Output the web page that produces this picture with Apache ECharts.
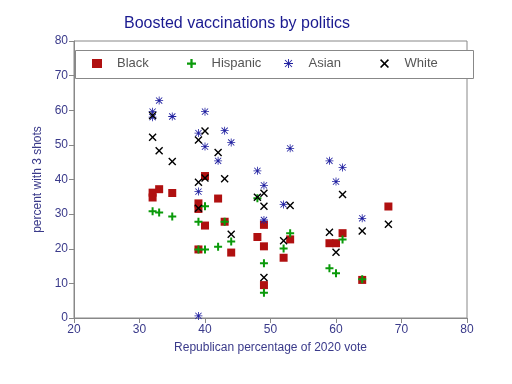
<!DOCTYPE html>
<html><head><meta charset="utf-8">
<script src="https://cdn.jsdelivr.net/npm/echarts@6/dist/echarts.min.js"></script>
<style>html,body{margin:0;padding:0;background:#fff}#c{width:512px;height:384px}</style>
</head><body><div id="c"></div>
<script>
const seriesNames = ['Black','Hispanic','Asian','White'];
const blackData = [[32,36.2],[32,34.8],[33,37.2],[35,36.1],[39,33.1],[39,31.5],[40,41],[40,26.7],[39,19.8],[42,34.5],[43,27.8],[44,18.9],[48,23.4],[49,26.9],[49,20.7],[49,9.5],[52,17.4],[53,22.7],[59,21.6],[60,21.6],[61,24.5],[64,11],[68,32.2]];
const hispanicData = [[32,30.8],[33,30.5],[35,29.3],[39,27.8],[40,32.3],[39,19.8],[40,19.8],[42,20.6],[43,27.8],[44,22.1],[48,34.6],[49,15.8],[49,7.3],[52,20.1],[53,24.5],[59,14.4],[60,12.9],[61,22.7],[64,11.2]];
const asianData = [[32,59.6],[32,58],[33,62.8],[35,58.2],[39,53.4],[40,59.6],[40,49.5],[39,36.5],[39,0.6],[42,45.4],[43,54.1],[44,50.7],[48,42.5],[49,38.3],[49,28.3],[52,32.8],[53,49],[59,45.4],[60,39.4],[61,43.5],[64,28.8]];
const whiteData = [[32,52.2],[32,58.5],[33,48.3],[35,45.2],[39,51.4],[40,54],[39,39.2],[40,40.4],[39,31.7],[42,47.8],[43,40.2],[44,24.2],[48,34.9],[49,36],[49,32.3],[49,11.7],[52,22.3],[53,32.5],[59,24.8],[60,19],[61,35.7],[64,25.1],[68,27.1]];
const xTicks = [20,30,40,50,60,70,80];
const yTicks = [0,10,20,30,40,50,60,70,80];

const PLUS = 'path://M3,0H5V3H8V5H5V8H3V5H0V3H3Z';
const CROSS = 'path://M0,1L1,0L4,3L7,0L8,1L5,4L8,7L7,8L4,5L1,8L0,7L3,4Z';
const STAR = 'path://M0,3.6H8V4.4H0Z M3.6,0H4.4V8H3.6Z M0.6,1.2L1.2,0.6L7.4,6.8L6.8,7.4Z M6.8,0.6L7.4,1.2L1.2,7.4L0.6,6.8Z';

const styles = [
  {data: blackData, symbol: 'rect', size: 8, color: '#b01010'},
  {data: hispanicData, symbol: PLUS, size: 8, color: '#0a9a0a'},
  {data: asianData, symbol: STAR, size: 8, color: '#2020a0'},
  {data: whiteData, symbol: CROSS, size: 8, color: '#000000'}
];
const legendLefts = [92, 187, 284, 380];
const labelColor = '#3a3a8a';
const chart = echarts.init(document.getElementById('c'));
chart.setOption({
  animation: false,
  title: {text: 'Boosted vaccinations by politics', left: 232, top: 11, textAlign: 'center',
    textStyle: {fontFamily: 'Liberation Sans', fontSize: 16, fontWeight: 'normal', color: '#1a1a90'}},
  graphic: [{type: 'rect', left: 75, top: 50, shape: {width: 398, height: 28}, z: 10,
    style: {fill: '#fff', stroke: '#888', lineWidth: 1}}],
  legend: seriesNames.map((n, i) => ({
    left: legendLefts[i], top: 57, padding: 0, itemGap: 0, z: 20,
    itemWidth: 10, itemHeight: 9, icon: styles[i].symbol,
    textStyle: {fontFamily: 'Liberation Sans', fontSize: 13, color: '#555', padding: [0, 0, 0, 10]},
    data: [n]
  })),
  grid: {left: 74, right: 45, top: 41, bottom: 66, show: true, borderColor: '#888', borderWidth: 1},
  xAxis: {type: 'value', min: xTicks[0], max: xTicks[xTicks.length-1], interval: 10,
    name: 'Republican percentage of 2020 vote', nameLocation: 'middle', nameGap: 24,
    nameTextStyle: {fontFamily: 'Liberation Sans', fontSize: 12, color: labelColor},
    axisLine: {lineStyle: {color: '#888'}}, axisTick: {show: true, length: 5, lineStyle: {color: '#888'}},
    splitLine: {show: false},
    axisLabel: {fontFamily: 'Liberation Sans', fontSize: 12, color: labelColor, margin: 6}},
  yAxis: {type: 'value', min: yTicks[0], max: yTicks[yTicks.length-1], interval: 10,
    name: 'percent with 3 shots', nameLocation: 'middle', nameGap: 30,
    nameTextStyle: {fontFamily: 'Liberation Sans', fontSize: 12, color: labelColor},
    axisLine: {show: true, lineStyle: {color: '#888'}}, axisTick: {show: true, length: 5, lineStyle: {color: '#888'}},
    splitLine: {show: false},
    axisLabel: {fontFamily: 'Liberation Sans', fontSize: 12, color: labelColor, margin: 6}},
  series: styles.map((s, i) => ({
    name: seriesNames[i], type: 'scatter', data: s.data, symbol: s.symbol, symbolSize: s.size,
    itemStyle: {color: s.color, opacity: 1}, z: 2 + i
  }))
});
</script></body></html>
